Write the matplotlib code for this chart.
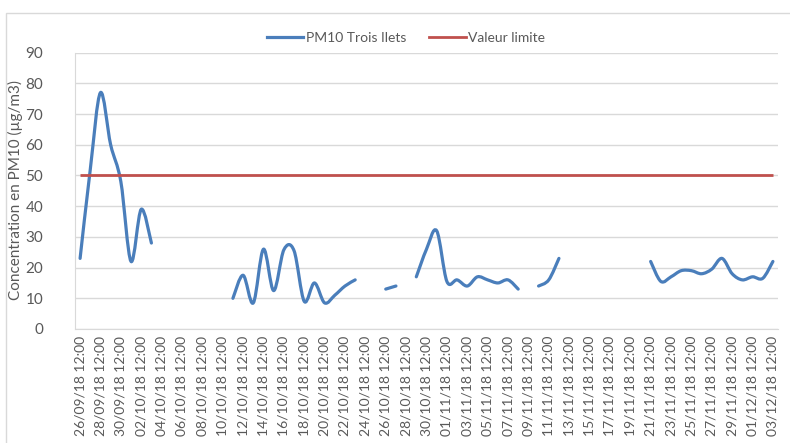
import numpy as np
import matplotlib.pyplot as plt
from matplotlib.path import Path
from matplotlib.patches import PathPatch, Rectangle
from matplotlib.lines import Line2D

plt.rcParams['font.family'] = ['Lato', 'DejaVu Sans']

# valeurs journalieres PM10 (nan = pas de mesure), du 26/09/18 au 03/12/18
pm10 = [23, 52, 77, 60, 48, 22, 39, 28,
        np.nan, np.nan, np.nan, np.nan, np.nan, np.nan, np.nan,
        10, 17.5, 8.5, 26, 12.5, 25.8, 25.5, 9, 15, 8.5, 11, 14, 16,
        np.nan, np.nan,
        13, 14,
        np.nan,
        17, 26, 32, 15.5, 16, 14, 17, 16, 15, 16, 13,
        np.nan,
        14, 16, 23,
        np.nan, np.nan, np.nan, np.nan, np.nan, np.nan, np.nan, np.nan,
        22, 15.5, 17, 19, 19, 18, 19.5, 23, 18, 16, 17, 16.5, 22]
valeur_limite = 50

tick_labels = ['26/09/18 12:00', '28/09/18 12:00', '30/09/18 12:00', '02/10/18 12:00',
               '04/10/18 12:00', '06/10/18 12:00', '08/10/18 12:00', '10/10/18 12:00',
               '12/10/18 12:00', '14/10/18 12:00', '16/10/18 12:00', '18/10/18 12:00',
               '20/10/18 12:00', '22/10/18 12:00', '24/10/18 12:00', '26/10/18 12:00',
               '28/10/18 12:00', '30/10/18 12:00', '01/11/18 12:00', '03/11/18 12:00',
               '05/11/18 12:00', '07/11/18 12:00', '09/11/18 12:00', '11/11/18 12:00',
               '13/11/18 12:00', '15/11/18 12:00', '17/11/18 12:00', '19/11/18 12:00',
               '21/11/18 12:00', '23/11/18 12:00', '25/11/18 12:00', '27/11/18 12:00',
               '29/11/18 12:00', '01/12/18 12:00', '03/12/18 12:00']

blue = '#4A7EBB'
red = '#C0504D'
grey = '#595959'

x = np.arange(len(pm10))
y = np.array(pm10, dtype=float)


def smooth_path(xs, ys):
    # courbe lissee facon Excel (bezier type catmull-rom)
    n = len(xs)
    verts = [(xs[0], ys[0])]
    codes = [Path.MOVETO]
    for k in range(n - 1):
        a = k - 1 if k > 0 else k
        b = k + 2 if k + 2 < n else k + 1
        c1 = (xs[k] + (xs[k + 1] - xs[a]) / 6, ys[k] + (ys[k + 1] - ys[a]) / 6)
        c2 = (xs[k + 1] - (xs[b] - xs[k]) / 6, ys[k + 1] - (ys[b] - ys[k]) / 6)
        verts += [c1, c2, (xs[k + 1], ys[k + 1])]
        codes += [Path.CURVE4] * 3
    return Path(verts, codes)


fig = plt.figure(figsize=(7.9, 4.43), dpi=100)
ax = fig.add_axes([75 / 790, 1 - 329 / 443, 703 / 790, (329 - 52.7) / 443])

# segments continus
valid = ~np.isnan(y)
start = None
for i in range(len(y) + 1):
    ok = i < len(y) and valid[i]
    if ok and start is None:
        start = i
    elif not ok and start is not None:
        xs, ys = x[start:i], y[start:i]
        ax.add_patch(PathPatch(smooth_path(xs, ys), fill=False, edgecolor=blue,
                               lw=2.3, capstyle='round', joinstyle='round', zorder=3))
        start = None

ax.hlines(valeur_limite, x[0], x[-1], color=red, lw=2.0, zorder=3)

ax.set_xlim(-0.5, len(pm10) - 0.5)
ax.set_ylim(0, 90)
ax.set_yticks(range(0, 91, 10))
ax.set_xticks(x[::2])
ax.set_xticklabels(tick_labels, rotation=90)
ax.grid(axis='y', color='#D9D9D9', lw=1)
ax.set_axisbelow(True)
ax.tick_params(axis='both', length=0, colors=grey)
ax.tick_params(axis='y', pad=23, labelsize=11)
ax.tick_params(axis='x', pad=5, labelsize=10)
for s in ['top', 'right']:
    ax.spines[s].set_visible(False)
ax.spines['left'].set_color('#D9D9D9')
ax.spines['bottom'].set_color('#D9D9D9')

fig.text(15 / 790, 1 - 190 / 443, 'Concentration en PM10 (µg/m3)', rotation=90,
         ha='center', va='center', fontsize=11, color=grey)

handles = [Line2D([], [], color=blue, lw=2.3), Line2D([], [], color=red, lw=2.0)]
fig.legend(handles, ['PM10 Trois Ilets', 'Valeur limite'], loc='center',
           bbox_to_anchor=(406 / 790, 1 - 38 / 443), ncol=2, frameon=False,
           fontsize=10, handlelength=2.6, handletextpad=0.2, columnspacing=1.7,
           labelcolor=grey)

# bord du cadre du graphique
fig.patches.append(Rectangle((6 / 790, -0.1), 1.0, 1.1 - 13 / 443, transform=fig.transFigure,
                             fill=False, edgecolor='#D9D9D9', lw=1))

fig.savefig('out.png', dpi=100)
